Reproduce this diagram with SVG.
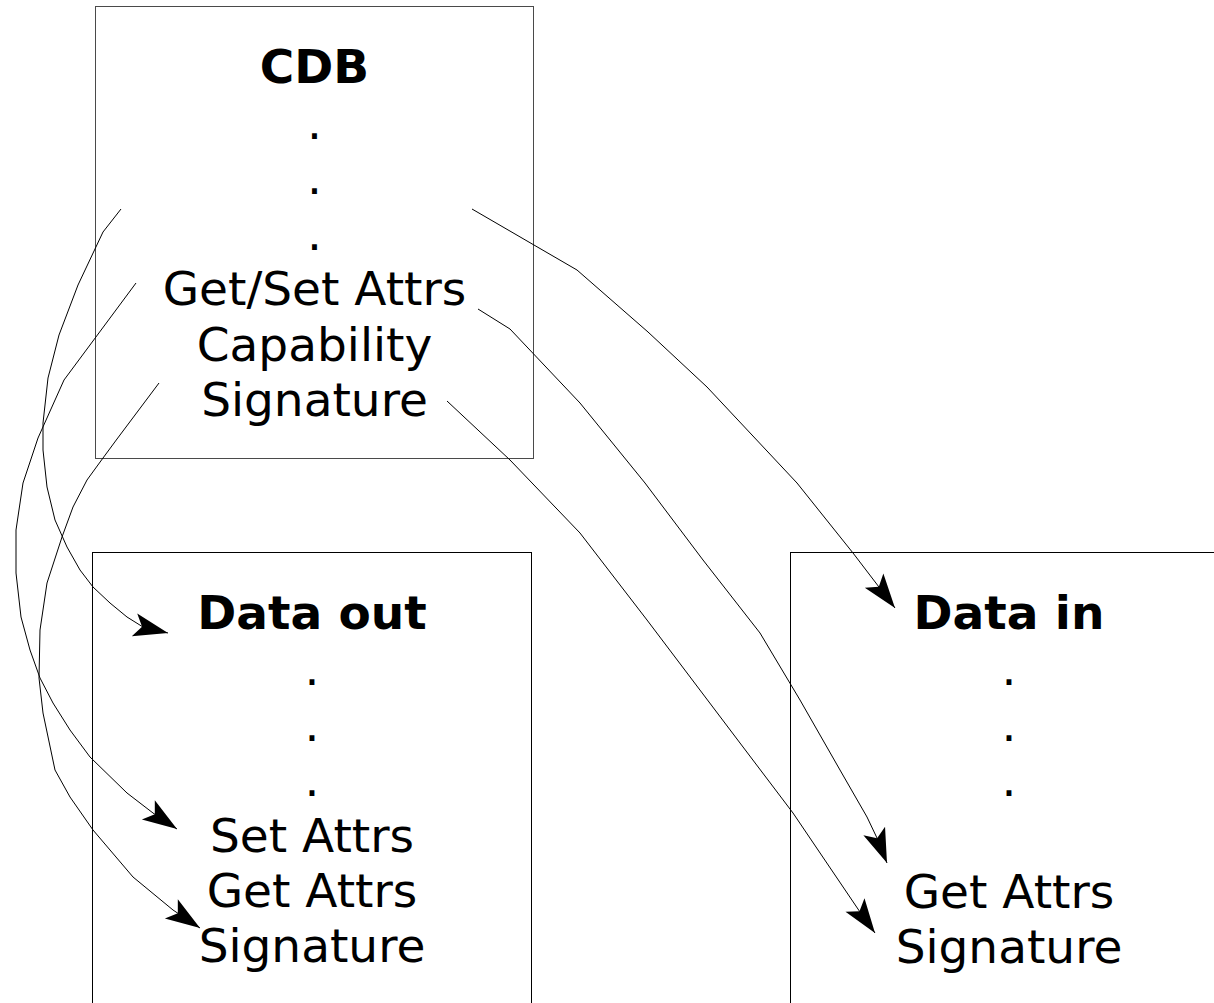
<svg xmlns="http://www.w3.org/2000/svg" width="1214" height="1003" viewBox="0 0 1214 1003">
<style>
  text { font-family: "DejaVu Sans", sans-serif; font-size: 47px; fill: #000; text-anchor: middle; }
  .title { font-weight: bold; }
  .box { fill: none; stroke: #000; stroke-width: 1; }
  .conn { fill: none; stroke: #000; stroke-width: 1; marker-end: url(#arrow); }
</style>
<defs>
  <marker id="arrow" markerUnits="userSpaceOnUse" orient="auto" markerWidth="40" markerHeight="30" viewBox="-33 -13 36 26" refX="0" refY="0">
    <path d="M0,0 L-31,-10.5 L-24,0 L-31,10.5 Z" fill="#000"/>
  </marker>
</defs>
<rect width="1214" height="1003" fill="#fff"/>
<g id="cdb">
  <rect class="box" x="95.5" y="6.5" width="438" height="452" style="stroke:#4a4a4a"/>
  <text class="title" x="314.5" y="83">CDB</text>
  <text x="314.5" y="138.5">.</text>
  <text x="314.5" y="194">.</text>
  <text x="314.5" y="249.5">.</text>
  <text x="314.5" y="305">Get/Set Attrs</text>
  <text x="314.5" y="360.5">Capability</text>
  <text x="314.5" y="416">Signature</text>
</g>
<g id="data-out">
  <rect class="box" x="92.5" y="552.5" width="439" height="460"/>
  <text class="title" x="312" y="629">Data out</text>
  <text x="312" y="685">.</text>
  <text x="312" y="740.5">.</text>
  <text x="312" y="796">.</text>
  <text x="312" y="852">Set Attrs</text>
  <text x="312" y="907">Get Attrs</text>
  <text x="312" y="962">Signature</text>
</g>
<g id="data-in">
  <rect class="box" x="790.5" y="552.5" width="439" height="460"/>
  <text class="title" x="1009" y="629">Data in</text>
  <text x="1009" y="685">.</text>
  <text x="1009" y="740.5">.</text>
  <text x="1009" y="796">.</text>
  <text x="1009" y="908">Get Attrs</text>
  <text x="1009" y="963">Signature</text>
</g>
<g id="connectors">
  <polyline class="conn" points="472,209 577,270 648,332 707,387 797,483 853,553 895,608"/>
  <polyline class="conn" points="478,309 510,329 580,403 645,483 703,560 760,633 800,700 840,770 867,817 877,838 887,863"/>
  <polyline class="conn" points="447,401 510,460 580,533 647,620 740,743 793,813 860,912 875,933"/>
  <polyline class="conn" points="121,209 103,232 78,285 59,335 48,378 43,423 43,450 47,487 55,520 67,547 80,570 93,587 110,603 127,617 143,627 168,633"/>
  <polyline class="conn" points="136,283 64,380 38,438 23,483 16,530 16,573 21,617 30,650 40,678 53,703 70,730 90,757 127,793 153,813 177,829"/>
  <polyline class="conn" points="159,383 117,439 103,458 87,480 73,507 62,537 47,583 40,630 39,678 43,713 55,770 70,797 93,830 133,877 173,910 200,928"/>
</g>
</svg>
